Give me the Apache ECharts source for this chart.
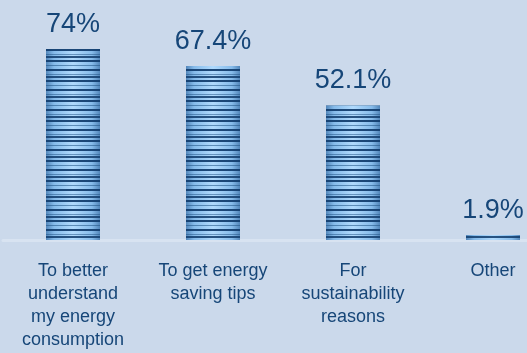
<!DOCTYPE html>
<html><head><meta charset="utf-8">
<script src="https://cdn.jsdelivr.net/npm/echarts@6/dist/echarts.min.js"></script>
<style>html,body{margin:0;padding:0;background:#cbd9eb;}#c{width:527px;height:353px;}</style>
</head><body><div id="c"></div>
<script>
const categories = ['To better\nunderstand\nmy energy\nconsumption', 'To get energy\nsaving tips', 'For\nsustainability\nreasons', 'Other'];
const values = [74, 67.4, 52.1, 1.9];
const valueLabels = ['74%', '67.4%', '52.1%', '1.9%'];

// stripe pattern
const pc = document.createElement('canvas');
pc.width = 4; pc.height = 20;
const px = pc.getContext('2d');
const rows = [
  [0, 2, 'rgba(16,60,108,0.92)'],
  [5, 1, 'rgba(30,80,130,0.55)'],
  [9, 2, 'rgba(16,60,108,0.92)'],
  [14, 1, 'rgba(30,80,130,0.5)'],
  [16, 2, 'rgba(16,60,108,0.85)']
];
rows.forEach(r => { px.fillStyle = r[2]; px.fillRect(0, r[0], 4, r[1]); });

const chart = echarts.init(document.getElementById('c'), null, {renderer: 'canvas'});
chart.setOption({
  backgroundColor: '#cbd9eb',
  animation: false,
  grid: {left: 3, right: -36, top: 33.5, bottom: 113, outerBoundsMode: 'none', containLabel: false},
  xAxis: {
    type: 'category', data: categories,
    axisLine: {lineStyle: {color: '#d8e3f1', width: 3}},
    axisTick: {show: false},
    axisLabel: {color: '#164678', fontSize: 18, lineHeight: 23, margin: 20, interval: 0,
      fontFamily: 'Liberation Sans, Arial, sans-serif'}
  },
  yAxis: {type: 'value', min: 0, max: 80, show: false, splitLine: {show: false}},
  series: [
    {
      type: 'bar', data: values, barWidth: 54, z: 2,
      itemStyle: {color: new echarts.graphic.LinearGradient(0, 0, 1, 0, [
        {offset: 0, color: '#5286ba'},
        {offset: 0.15, color: '#86bbea'},
        {offset: 0.5, color: '#b0dafd'},
        {offset: 0.85, color: '#86bbea'},
        {offset: 1, color: '#5286ba'}
      ])},
      label: {show: true, position: 'top', distance: 11, color: '#164678', fontSize: 27,
        fontFamily: 'Liberation Sans, Arial, sans-serif',
        formatter: p => valueLabels[p.dataIndex]}
    },
    {
      type: 'bar', data: values, barWidth: 54, barGap: '-100%', z: 3,
      itemStyle: {color: {image: pc, repeat: 'repeat'}},
      silent: true
    }
  ]
});
</script></body></html>
